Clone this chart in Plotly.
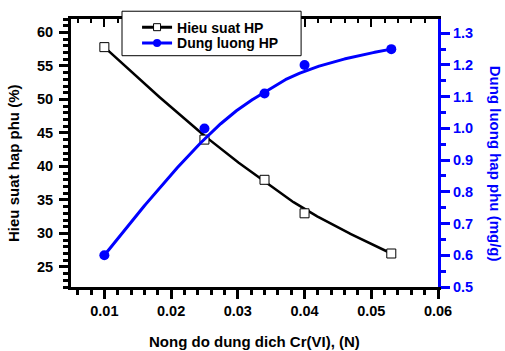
import numpy as np
import plotly.graph_objects as go

conc = [0.01, 0.025, 0.034, 0.04, 0.053]
hieu_suat = [57.8, 44.0, 38.0, 33.0, 27.0]
dung_luong = [0.60, 1.00, 1.11, 1.20, 1.25]

x_title = "Nong do dung dich Cr(VI), (N)"
y1_title = "Hieu suat hap phu (%)"
y2_title = "Dung luong hap phu (mg/g)"
name1 = "Hieu suat HP"
name2 = "Dung luong HP"


def bspline(xs, ys, degree=3, n=300):
    P = np.column_stack([xs, ys]).astype(float)
    m = len(P)
    k = min(degree, m - 1)
    inner = np.linspace(0, 1, m - k + 1)
    knots = np.concatenate([[0.0] * k, inner, [1.0] * k])
    t = np.linspace(0, 1, n)

    def basis(i, p):
        if p == 0:
            b = ((knots[i] <= t) & (t < knots[i + 1])).astype(float)
            if knots[i + 1] == 1.0 and knots[i] < 1.0:
                b[t == 1.0] = 1.0
            return b
        out = np.zeros_like(t)
        d1 = knots[i + p] - knots[i]
        if d1 > 0:
            out += (t - knots[i]) / d1 * basis(i, p - 1)
        d2 = knots[i + p + 1] - knots[i + 1]
        if d2 > 0:
            out += (knots[i + p + 1] - t) / d2 * basis(i + 1, p - 1)
        return out

    C = np.zeros((n, 2))
    for i in range(m):
        C += basis(i, k)[:, None] * P[i]
    return C[:, 0], C[:, 1]


BLUE = "#0000ff"
FONT = "Arial, Liberation Sans, sans-serif"

bx1, by1 = bspline(conc, hieu_suat)
bx2, by2 = bspline(conc, dung_luong)

fig = go.Figure()
fig.add_trace(go.Scatter(x=bx1, y=by1, mode="lines", line=dict(color="black", width=2.5),
                         showlegend=False, hoverinfo="skip"))
fig.add_trace(go.Scatter(x=conc, y=hieu_suat, mode="markers",
                         marker=dict(symbol="square", size=9, color="white",
                                     line=dict(color="black", width=1)),
                         showlegend=False))
fig.add_trace(go.Scatter(x=bx2, y=by2, mode="lines", line=dict(color=BLUE, width=3),
                         showlegend=False, hoverinfo="skip", yaxis="y2"))
fig.add_trace(go.Scatter(x=conc, y=dung_luong, mode="markers", yaxis="y2",
                         marker=dict(symbol="circle", size=10, color=BLUE),
                         showlegend=False))
# legend entries
fig.add_trace(go.Scatter(x=[None], y=[None], mode="lines+markers", name=name1,
                         line=dict(color="black", width=3), legend="legend",
                         marker=dict(symbol="square", size=7, color="white",
                                     line=dict(color="black", width=1))))
fig.add_trace(go.Scatter(x=[None], y=[None], mode="lines+markers", name=name2,
                         line=dict(color=BLUE, width=3), legend="legend2",
                         marker=dict(symbol="circle", size=8, color=BLUE)))
# dummy for top axis
fig.add_trace(go.Scatter(x=[None], y=[None], xaxis="x2", showlegend=False))

tickfont = dict(family=FONT, size=14.5, color="black", weight="bold")
titlefont = dict(family=FONT, size=15, color="black", weight="bold")
legfont = dict(family=FONT, size=14, color="black", weight="bold")

fig.update_layout(
    width=505, height=351,
    margin=dict(l=71, r=67, t=19, b=64, autoexpand=False),
    paper_bgcolor="white", plot_bgcolor="white",
    showlegend=True,
    legend=dict(x=0.18, y=0.968, xanchor="left", yanchor="middle",
                borderwidth=0, bgcolor="rgba(0,0,0,0)", font=legfont),
    legend2=dict(x=0.18, y=0.909, xanchor="left", yanchor="middle",
                 borderwidth=0, bgcolor="rgba(0,0,0,0)", font=legfont),
    shapes=[dict(type="rect", xref="paper", yref="paper",
                 x0=0.139, x1=0.627, y0=0.863, y1=1.029,
                 line=dict(color="black", width=1), fillcolor="white", layer="above")],
    xaxis=dict(range=[0.005, 0.06], tick0=0, dtick=0.01, tickformat=".2f",
               ticks="outside", ticklen=9, tickwidth=2.5, tickcolor="black",
               showline=True, linewidth=3, linecolor="black",
               showgrid=False, zeroline=False, tickfont=tickfont,
               minor=dict(dtick=0.002, ticks="outside", ticklen=5, tickwidth=2.5,
                          tickcolor="black", showgrid=False)),
    xaxis2=dict(range=[0.005, 0.06], overlaying="x", side="top", anchor="y",
                tick0=0, dtick=0.01, ticks="inside", ticklen=8, tickwidth=1.5,
                tickcolor="black", showticklabels=False,
                showline=True, linewidth=3, linecolor="black",
                showgrid=False, zeroline=False,
                minor=dict(dtick=0.002, ticks="inside", ticklen=4, tickwidth=1.5,
                           tickcolor="black", showgrid=False)),
    yaxis=dict(range=[22, 62], tick0=0, dtick=5,
               ticks="outside", ticklen=9, tickwidth=2.5, tickcolor="black",
               showline=True, linewidth=3, linecolor="black",
               showgrid=False, zeroline=False, tickfont=tickfont,
               ticklabelstandoff=3,
               minor=dict(dtick=1, ticks="outside", ticklen=5, tickwidth=2.5,
                          tickcolor="black", showgrid=False)),
    yaxis2=dict(range=[0.5, 1.345], tick0=0, dtick=0.1, tickformat=".1f",
                overlaying="y", side="right", anchor="x",
                ticks="outside", ticklen=9, tickwidth=2.5, tickcolor=BLUE,
                showline=True, linewidth=3, linecolor=BLUE,
                showgrid=False, zeroline=False,
                tickfont=dict(family=FONT, size=14.5, color=BLUE, weight="bold"),
                minor=dict(dtick=0.05, ticks="outside", ticklen=5, tickwidth=2.5,
                           tickcolor=BLUE, showgrid=False)),
    annotations=[
        dict(text=x_title, xref="paper", yref="paper", x=0.5, y=-0.204,
             xanchor="center", yanchor="middle", showarrow=False, font=titlefont),
        dict(text=y1_title, xref="paper", yref="paper", x=-0.155, y=0.463,
             xanchor="center", yanchor="middle", showarrow=False, textangle=-90,
             font=titlefont),
        dict(text=y2_title, xref="paper", yref="paper", x=1.156, y=0.459,
             xanchor="center", yanchor="middle", showarrow=False, textangle=90,
             font=dict(family=FONT, size=15, color=BLUE, weight="bold")),
    ],
)

fig.write_html("out.html")
